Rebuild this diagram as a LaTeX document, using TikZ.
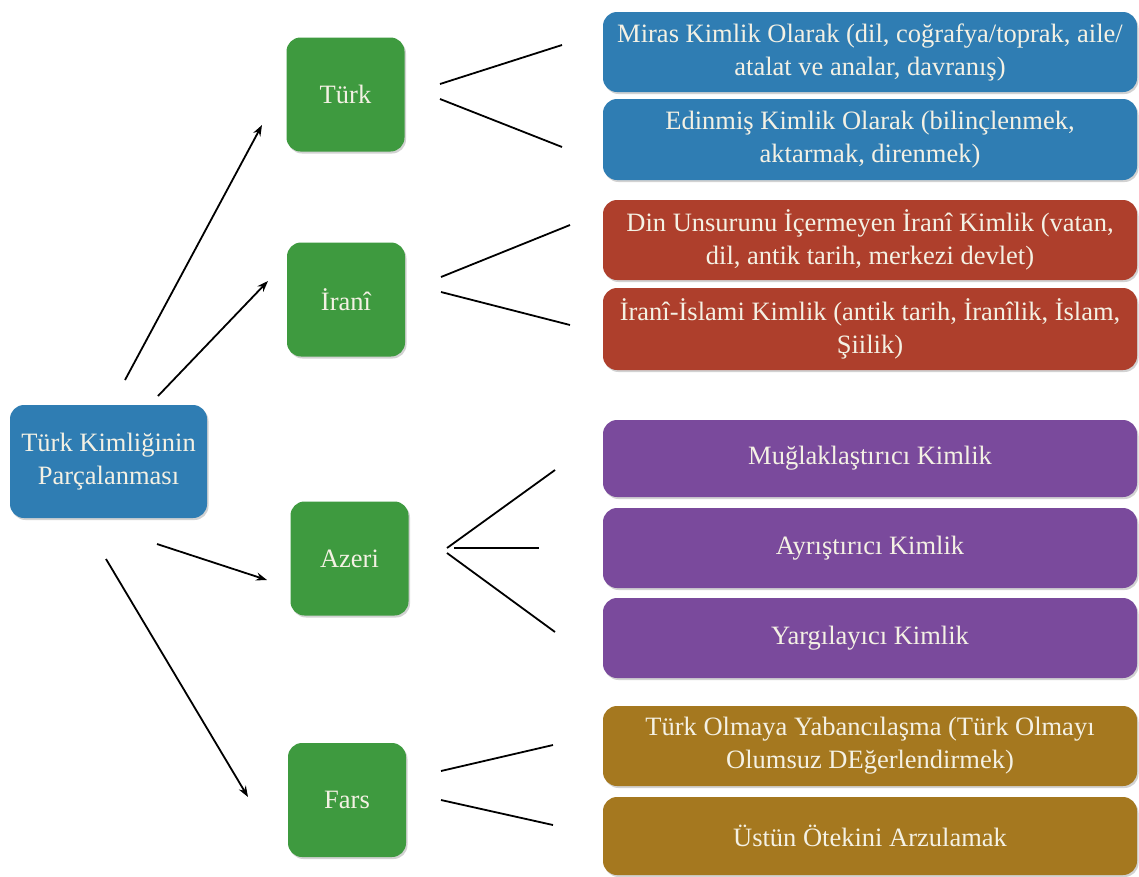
\documentclass[tikz,border=0pt]{standalone}
\usepackage{fontspec}
\setmainfont{Liberation Serif}
\usetikzlibrary{shadows,arrows.meta}
\definecolor{cblue}{HTML}{2F7DB3}
\definecolor{cgreen}{HTML}{3E9A3F}
\definecolor{cred}{HTML}{AE3F2C}
\definecolor{cpurple}{HTML}{7A4A9C}
\definecolor{cgold}{HTML}{A5781F}
\definecolor{ctext}{HTML}{F4F1E4}
\tikzset{
  box/.style={rounded corners=14pt, inner sep=0pt, align=center, text=ctext,
    font=\fontsize{26.5}{33}\selectfont,
    drop shadow={opacity=0.35, shadow xshift=1.5pt, shadow yshift=-2pt}},
  gbox/.style={box, fill=cgreen, minimum width=118pt, minimum height=114pt},
  rbox/.style={box, minimum width=534pt},
  conn/.style={line width=1.8pt, black},
  arr/.style={conn, -{Stealth[length=11pt,width=8pt]}}
}
\begin{document}
\begin{tikzpicture}[x=1pt,y=-1pt]
\useasboundingbox (0,0) rectangle (1139,876);
\fill[white] (0,0) rectangle (1139,876);
% root
\node[box, fill=cblue, minimum width=197pt, minimum height=113pt] (root) at (108.5,461.5) {Türk Kimliğinin\\Parçalanması};
% middle
\node[gbox] (turk) at (345.5,94.5) {Türk};
\node[gbox] (irani) at (346,299.5) {İranî};
\node[gbox] (azeri) at (349.5,558.5) {Azeri};
\node[gbox] (fars) at (347,800) {Fars};
% right
\node[rbox, fill=cblue, minimum height=80pt] (b1) at (870,52) {Miras Kimlik Olarak (dil, coğrafya/toprak, aile/\\atalat ve analar, davranış)};
\node[rbox, fill=cblue, minimum height=81pt] (b2) at (870,139.5) {Edinmiş Kimlik Olarak (bilinçlenmek,\\aktarmak, direnmek)};
\node[rbox, fill=cred, minimum height=80pt] (r1) at (870,240) {Din Unsurunu İçermeyen İranî Kimlik (vatan,\\dil, antik tarih, merkezi devlet)};
\node[rbox, fill=cred, minimum height=82pt] (r2) at (870,329) {İranî-İslami Kimlik (antik tarih, İranîlik, İslam,\\Şiilik)};
\node[rbox, fill=cpurple, minimum height=77pt] (p1) at (870,458.5) {Muğlaklaştırıcı Kimlik};
\node[rbox, fill=cpurple, minimum height=80pt] (p2) at (870,548) {Ayrıştırıcı Kimlik};
\node[rbox, fill=cpurple, minimum height=80pt] (p3) at (870,638) {Yargılayıcı Kimlik};
\node[rbox, fill=cgold, minimum height=80pt] (g1) at (870,746) {Türk Olmaya Yabancılaşma (Türk Olmayı\\Olumsuz DEğerlendirmek)};
\node[rbox, fill=cgold, minimum height=78pt] (g2) at (870,836) {Üstün Ötekini Arzulamak};
% arrow endpoints
\coordinate (a1s) at (125,380); \coordinate (a1e) at (262,125);
\coordinate (a2s) at (158,396); \coordinate (a2e) at (268,281);
\coordinate (a3s) at (157,544); \coordinate (a3e) at (267,580);
\coordinate (a4s) at (106,559); \coordinate (a4e) at (248,797);
\draw[arr] (a1s) -- (a1e);
\draw[arr] (a2s) -- (a2e);
\draw[arr] (a3s) -- (a3e);
\draw[arr] (a4s) -- (a4e);
% fan lines
\coordinate (t1) at (440,84); \coordinate (t1e) at (562,45);
\coordinate (t2) at (440,99); \coordinate (t2e) at (562,147);
\draw[conn] (t1) -- (t1e);
\draw[conn] (t2) -- (t2e);
\coordinate (i1) at (441,277); \coordinate (i1e) at (570,225);
\coordinate (i2) at (441,292); \coordinate (i2e) at (570,325);
\draw[conn] (i1) -- (i1e);
\draw[conn] (i2) -- (i2e);
\coordinate (z1) at (447,548); \coordinate (z1e) at (555,470);
\coordinate (z2) at (454,548); \coordinate (z2e) at (539,548);
\coordinate (z3) at (447,553); \coordinate (z3e) at (555,632);
\draw[conn] (z1) -- (z1e);
\draw[conn] (z2) -- (z2e);
\draw[conn] (z3) -- (z3e);
\coordinate (f1) at (441,771); \coordinate (f1e) at (553,745);
\coordinate (f2) at (441,800); \coordinate (f2e) at (553,825);
\draw[conn] (f1) -- (f1e);
\draw[conn] (f2) -- (f2e);
\end{tikzpicture}
\end{document}
